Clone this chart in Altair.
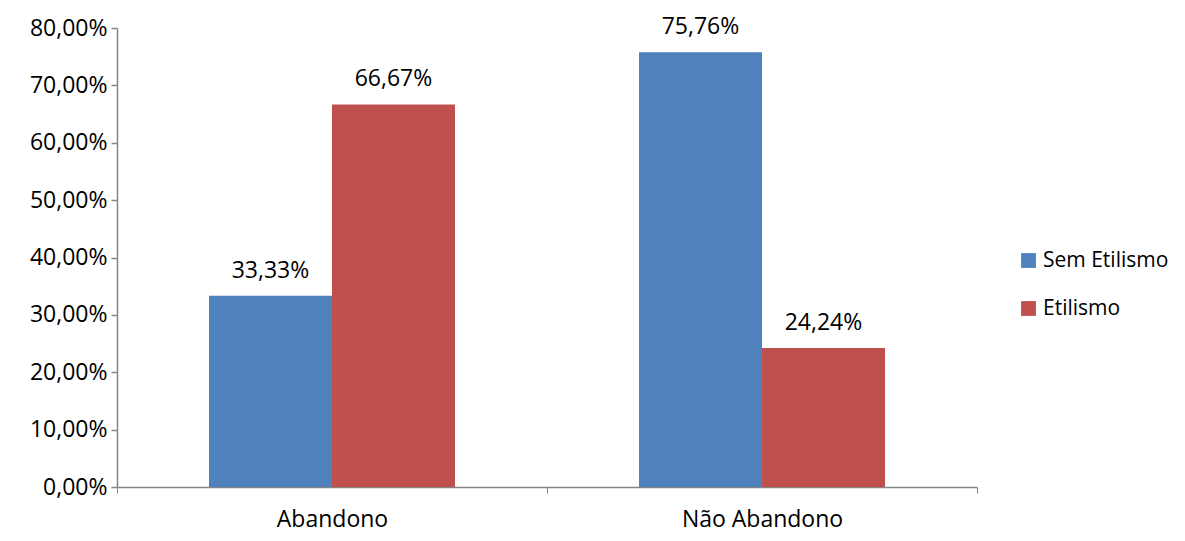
import altair as alt
import pandas as pd

categories = ["Abandono", "Não Abandono"]
series = ["Sem Etilismo", "Etilismo"]
sem_etilismo = [0.3333, 0.7576]
etilismo = [0.6667, 0.2424]
colors = ["#4F81BD", "#C0504D"]

rows = []
for i, c in enumerate(categories):
    rows.append({"cat": c, "serie": series[0], "v": sem_etilismo[i]})
    rows.append({"cat": c, "serie": series[1], "v": etilismo[i]})
df = pd.DataFrame(rows)
df["label"] = df["v"].map(lambda v: f"{v*100:.2f}%".replace(".", ","))

FONT = "Open Sans"
FS = 23

base = alt.Chart(df).encode(
    x=alt.X("cat:N", sort=categories, title=None,
            scale=alt.Scale(paddingInner=0, paddingOuter=0),
            axis=alt.Axis(labelAngle=0, tickBand="extent", tickSize=6,
                          labelPadding=15, labelFontSize=FS, labelFont=FONT,
                          labelColor="#000000", domainColor="#868686",
                          tickColor="#868686", tickWidth=1, domainWidth=1.5,
                          grid=False)),
    xOffset=alt.XOffset("serie:N", sort=series,
                        scale=alt.Scale(paddingOuter=0.748, paddingInner=0)),
)

bars = base.mark_bar().encode(
    y=alt.Y("v:Q", title=None,
            scale=alt.Scale(domain=[0, 0.8], nice=False),
            axis=alt.Axis(values=[i / 10 for i in range(9)], tickSize=6,
                          ticks=True, tickWidth=1.5,
                          labelExpr="replace(format(datum.value, '.2%'), '.', ',')",
                          labelFontSize=FS, labelFont=FONT, labelColor="#000000",
                          labelPadding=4, domainColor="#868686", domainWidth=1.5,
                          tickColor="#868686", grid=False)),
    color=alt.Color("serie:N", sort=series,
                    scale=alt.Scale(domain=series, range=colors),
                    legend=alt.Legend(title=None, orient="none", legendX=901,
                                      legendY=222, symbolType="square",
                                      symbolSize=220, symbolStrokeWidth=0,
                                      labelFontSize=21, labelFont=FONT,
                                      labelColor="#000000", rowPadding=26,
                                      labelOffset=4, labelLimit=300)),
)

labels = base.mark_text(baseline="bottom", dy=-13, fontSize=FS, font=FONT,
                        color="#000000").encode(
    y=alt.Y("v:Q"),
    text="label:N",
)

chart = (bars + labels).properties(
    width=860, height=459,
    autosize=alt.AutoSizeParams(type="none"),
    padding={"left": 109, "top": 20, "right": 200, "bottom": 46},
    background="white",
).configure_view(stroke=None)

chart.save("out.html", embed_options={"renderer": "svg", "actions": False})
